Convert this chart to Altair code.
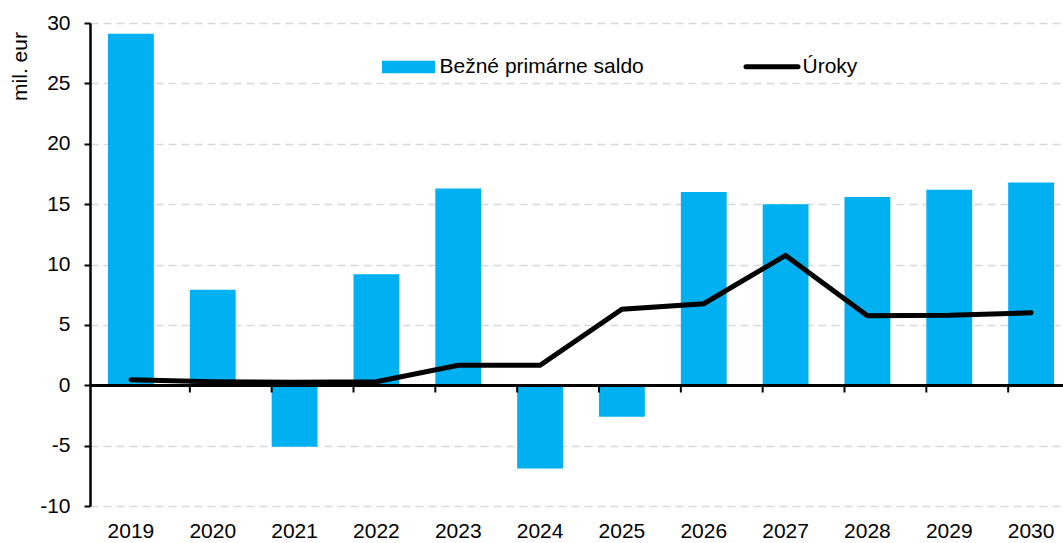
import altair as alt
import pandas as pd

years = [str(y) for y in range(2019, 2031)]
saldo = [29.1, 7.9, -5.1, 9.2, 16.3, -6.9, -2.6, 16.0, 15.0, 15.6, 16.2, 16.8]
uroky = [0.45, 0.3, 0.25, 0.3, 1.65, 1.65, 6.3, 6.75, 10.75, 5.75, 5.8, 6.0]
y_ticks = [-10, -5, 0, 5, 10, 15, 20, 25, 30]
legend_labels = ["Bežné primárne saldo", "Úroky"]

FONT = "Liberation Sans"
BLUE = "#00B0F0"
FS = 21

df = pd.DataFrame({"year": years, "saldo": saldo, "uroky": uroky})
bounds = pd.DataFrame({"year": years[1:]})

W, H = 973, 483

xscale = alt.Scale(type="band", range=[0, 982], paddingInner=0.44, paddingOuter=0.22)
yscale = alt.Scale(domain=[-10, 30], nice=False, zero=False)

xaxis = alt.Axis(orient="bottom", domain=False, ticks=False, grid=False,
                 labelFont=FONT, labelFontSize=FS, labelColor="black",
                 labelPadding=14, labelAngle=0, title=None)
yaxis = alt.Axis(values=y_ticks, domain=True, domainColor="black", domainWidth=2.5,
                 ticks=True, tickColor="black", tickWidth=2, tickSize=6,
                 labelExpr="toString(datum.value)",
                 labelFont=FONT, labelFontSize=FS, labelColor="black", labelPadding=14,
                 grid=True, gridColor="#d9d9d9", gridDash=[8, 5], gridWidth=1.5,
                 title="mil. eur", titleFont=FONT, titleFontSize=FS, titleFontWeight="normal",
                 titleColor="black", titleAngle=-90, titleX=-70, titleY=43,
                 titleAlign="center", titleBaseline="middle")

bars = alt.Chart(df).mark_bar(color=BLUE).encode(
    x=alt.X("year:N", scale=xscale, axis=xaxis, sort=years),
    y=alt.Y("saldo:Q", scale=yscale, axis=yaxis),
)

zero = alt.Chart(df).mark_rule(color="black", strokeWidth=2.5).encode(
    y=alt.datum(0, scale=yscale),
    x=alt.value(0), x2=alt.value(W),
)

ticks = alt.Chart(bounds).mark_rule(color="black", strokeWidth=2).encode(
    x=alt.X("year:N", bandPosition=0, sort=years),
    y=alt.datum(0),
    y2=alt.datum(-0.6),
)

line = alt.Chart(df).mark_line(color="black", strokeWidth=5, strokeCap="round", strokeJoin="miter").encode(
    x=alt.X("year:N", bandPosition=0.5, sort=years),
    y=alt.Y("uroky:Q"),
)

one = alt.Data(values=[{"a": 1}])
leg_rect = alt.Chart(one).mark_rect(color=BLUE).encode(
    x=alt.value(292), x2=alt.value(345), y=alt.value(37.7), y2=alt.value(50.3))
leg_text1 = alt.Chart(one).mark_text(font=FONT, fontSize=FS, align="left", baseline="middle", color="black").encode(
    x=alt.value(349.5), y=alt.value(44), text=alt.value(legend_labels[0]))
leg_line = alt.Chart(one).mark_rule(color="black", strokeWidth=5, strokeCap="round").encode(
    x=alt.value(656), x2=alt.value(708), y=alt.value(43.7))
leg_text2 = alt.Chart(one).mark_text(font=FONT, fontSize=FS, align="left", baseline="middle", color="black").encode(
    x=alt.value(712.5), y=alt.value(44), text=alt.value(legend_labels[1]))

chart = alt.layer(bars, zero, ticks, line, leg_rect, leg_text1, leg_line, leg_text2).properties(
    width=W, height=H,
    autosize=alt.AutoSizeParams(type="none"),
    padding={"left": 90, "top": 23, "right": 0, "bottom": 37},
    background="white",
).configure_view(stroke=None)

chart.save("out.html", embed_options={"renderer": "svg", "actions": False})
